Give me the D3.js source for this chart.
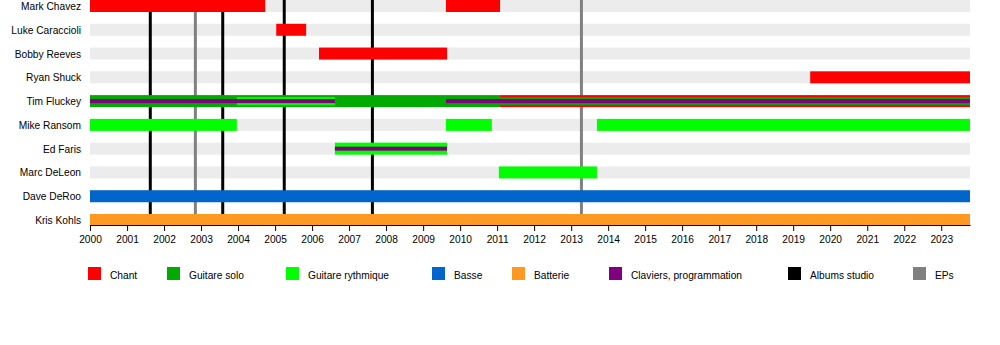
<!DOCTYPE html>
<html>
<head>
<meta charset="utf-8">
<script src="https://cdn.jsdelivr.net/npm/d3@7"></script>
<style>
  html, body { margin: 0; padding: 0; background: #fff; }
  svg { display: block; font-family: "Liberation Sans", Arial, sans-serif; }
</style>
</head>
<body>
<svg id="chart" width="1000" height="345"></svg>
<script>
// ---------- DATA ----------
const members = ["Mark Chavez", "Luke Caraccioli", "Bobby Reeves", "Ryan Shuck", "Tim Fluckey",
                 "Mike Ransom", "Ed Faris", "Marc DeLeon", "Dave DeRoo", "Kris Kohls"];
const roles = ["Chant", "Guitare solo", "Guitare rythmique", "Basse", "Batterie", "Claviers, programmation"];
const roleColors = ["#ff0000", "#00aa00", "#00ff00", "#0066cc", "#ff9922", "#800080"];
const startDate = "2000-01-01";
const endDate = "2023-10-12";

// [member, role, from, till] — main (full width) bars
const mainBars = [
  ["Mark Chavez", "Chant", "2000-01-01", "2004-09-25"],
  ["Mark Chavez", "Chant", "2009-08-14", "2011-01-30"],
  ["Luke Caraccioli", "Chant", "2005-01-12", "2005-11-03"],
  ["Bobby Reeves", "Chant", "2006-03-10", "2009-08-25"],
  ["Ryan Shuck", "Chant", "2019-06-18", "2023-10-12"],
  ["Tim Fluckey", "Guitare solo", "2000-01-01", "2011-01-30"],
  ["Tim Fluckey", "Chant", "2011-01-30", "2023-10-12"],
  ["Mike Ransom", "Guitare rythmique", "2000-01-01", "2003-12-20"],
  ["Mike Ransom", "Guitare rythmique", "2009-08-14", "2010-11-10"],
  ["Mike Ransom", "Guitare rythmique", "2013-09-12", "2023-10-12"],
  ["Ed Faris", "Guitare rythmique", "2006-08-14", "2009-08-25"],
  ["Marc DeLeon", "Guitare rythmique", "2011-01-18", "2013-09-12"],
  ["Dave DeRoo", "Basse", "2000-01-01", "2023-10-12"],
  ["Kris Kohls", "Batterie", "2000-01-01", "2023-10-12"]
];
// secondary (medium width) bars
const secondBars = [
  ["Tim Fluckey", "Guitare rythmique", "2003-12-20", "2006-08-14"],
  ["Tim Fluckey", "Guitare solo", "2011-01-30", "2023-10-12"]
];
// tertiary (thin) bars
const thirdBars = [
  ["Tim Fluckey", "Claviers, programmation", "2000-01-01", "2006-08-14"],
  ["Tim Fluckey", "Claviers, programmation", "2009-08-14", "2023-10-12"],
  ["Ed Faris", "Claviers, programmation", "2006-08-14", "2009-08-25"]
];

const albums = ["2001-08-18", "2003-08-03", "2005-04-01", "2007-08-19"];
const eps = ["2002-11-06", "2013-04-12"];
const markerTypes = ["Albums studio", "EPs"];
const markerColors = ["#000000", "#808080"];

// ---------- LAYOUT ----------
const legendX = [88, 167, 286, 432, 512, 609, 788, 913];
const fontSize = "10.2px";

const parse = d3.timeParse("%Y-%m-%d");
const svg = d3.select("#chart");
svg.append("rect").attr("width", 1000).attr("height", 345).attr("fill", "#fff");

const x = d3.scaleTime().domain([parse(startDate), parse(endDate)]).range([90, 970]);
const y = d3.scalePoint().domain(members).range([6, 220]);
const color = d3.scaleOrdinal().domain(roles.concat(markerTypes)).range(roleColors.concat(markerColors));

// background row bars
svg.append("g").selectAll("rect").data(members).join("rect")
  .attr("x", x.range()[0]).attr("width", x.range()[1] - x.range()[0])
  .attr("y", d => y(d) - 6).attr("height", 12)
  .attr("fill", "#ececec");

// marker lines
const lines = albums.map(d => ({ d, t: "Albums studio" })).concat(eps.map(d => ({ d, t: "EPs" })));
svg.append("g").selectAll("line").data(lines).join("line")
  .attr("x1", d => x(parse(d.d))).attr("x2", d => x(parse(d.d)))
  .attr("y1", 0).attr("y2", 225)
  .attr("stroke", d => color(d.t)).attr("stroke-width", 3);

function drawBars(data, h) {
  svg.append("g").selectAll("rect").data(data).join("rect")
    .attr("x", d => x(parse(d[2])))
    .attr("width", d => x(parse(d[3])) - x(parse(d[2])))
    .attr("y", d => y(d[0]) - h / 2)
    .attr("height", h)
    .attr("fill", d => color(d[1]));
}
drawBars(mainBars, 12);
drawBars(secondBars, 8);
drawBars(thirdBars, 4);

// row labels
svg.append("g").selectAll("text").data(members).join("text")
  .attr("x", 81).attr("y", d => y(d) + 4)
  .attr("text-anchor", "end")
  .style("font-size", fontSize).attr("fill", "#000")
  .text(d => d);

// axis
const axis = svg.append("g").attr("transform", "translate(0,225)")
  .call(d3.axisBottom(x).ticks(d3.timeYear.every(1)).tickFormat(d3.timeFormat("%Y"))
        .tickSize(6).tickSizeOuter(0).tickPadding(5));
axis.select(".domain").attr("stroke", "#000");
axis.selectAll(".tick line").attr("stroke", "#000");
axis.selectAll("text").style("font-size", fontSize).style("font-family", "'Liberation Sans', Arial, sans-serif").attr("fill", "#000");

// legend
const legendItems = roles.concat(markerTypes);
const lg = svg.append("g").selectAll("g").data(legendItems).join("g")
  .attr("transform", (d, i) => `translate(${legendX[i]},267)`);
lg.append("rect").attr("width", 13).attr("height", 13).attr("fill", d => color(d));
lg.append("text").attr("x", 22).attr("y", 11.5)
  .style("font-size", fontSize).attr("fill", "#000").text(d => d);
</script>
</body>
</html>
